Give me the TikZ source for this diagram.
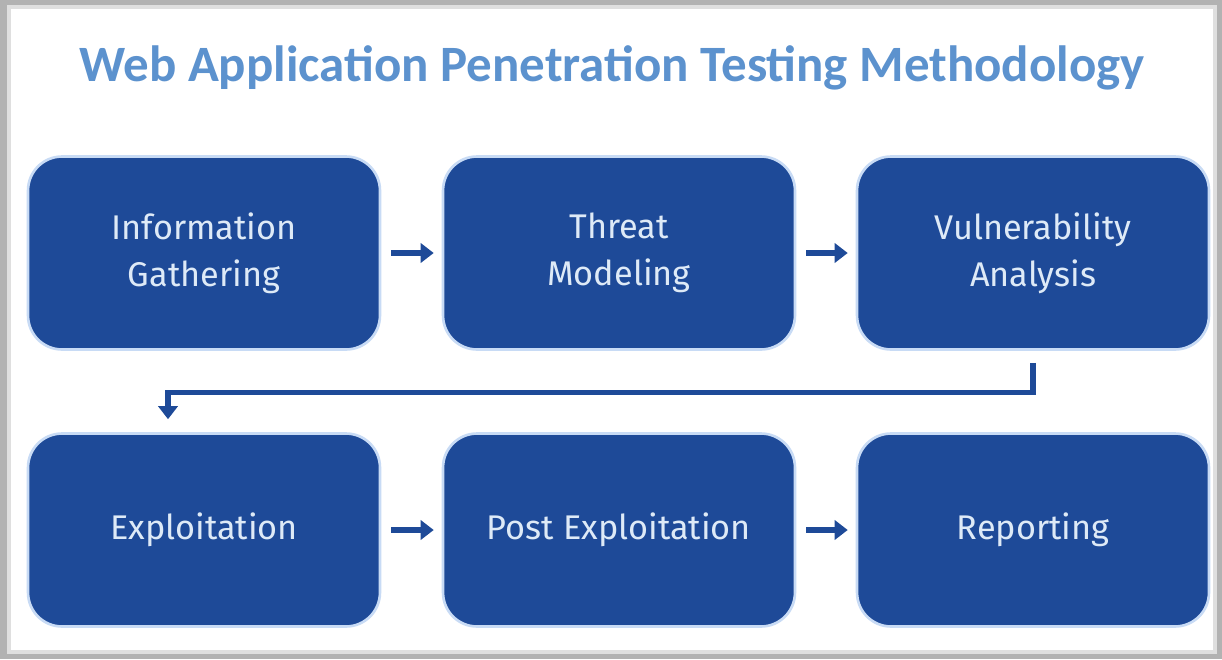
\documentclass[tikz,border=0pt]{standalone}
\usepackage{fontspec}
\setmainfont{Fira Sans}
\newfontfamily\titlefont{Carlito}
\usetikzlibrary{arrows.meta}
\definecolor{boxblue}{RGB}{30,74,152}
\definecolor{titleblue}{RGB}{92,146,206}
\definecolor{boxtext}{RGB}{222,234,247}
\definecolor{halo}{RGB}{200,219,245}

\begin{document}
\begin{tikzpicture}[x=0.02cm, y=-0.02cm,
    stage/.style={fill=boxblue, draw=halo, line width=1.5pt, rounded corners=0.68cm,
        minimum width=7.04cm, minimum height=3.86cm, align=center, text=boxtext,
        font=\fontsize{19.5}{27}\selectfont},
    flow/.style={draw=boxblue, line width=2.9pt, -{Triangle[length=7.5pt,width=11pt]}}]
    % frame
    \fill[gray!60] (0,0) rectangle (1222,659);
    \fill[gray!25] (7,5) rectangle (1217,654);
    \fill[white] (11,9) rectangle (1213,650);
    \node[font=\titlefont\bfseries\fontsize{29}{32}\selectfont, text=titleblue] (title) at (612,68) {Web Application Penetration Testing Methodology};
    % stages
    \node[stage] (info) at (204,253) {Information\\Gathering};
    \node[stage] (threat) at (619,253) {Threat\\Modeling};
    \node[stage] (vuln) at (1033,253) {Vulnerability\\Analysis};
    \node[stage] (expl) at (204,530) {Exploitation};
    \node[stage] (post) at (619,530) {Post Exploitation};
    \node[stage] (rep) at (1033,530) {Reporting};
    % arrows
    \draw[flow, shorten <=0.2cm, shorten >=0.16cm] (info) -- (threat);
    \draw[flow, shorten <=0.2cm, shorten >=0.16cm] (threat) -- (vuln);
    \draw[flow, shorten <=0.2cm, shorten >=0.16cm] (expl) -- (post);
    \draw[flow, shorten <=0.2cm, shorten >=0.16cm] (post) -- (rep);
    \draw[flow] ([yshift=-0.24cm]vuln.south) -- ++(0,30) -| ([xshift=-0.72cm,yshift=0.26cm]expl.north);
\end{tikzpicture}
\end{document}
